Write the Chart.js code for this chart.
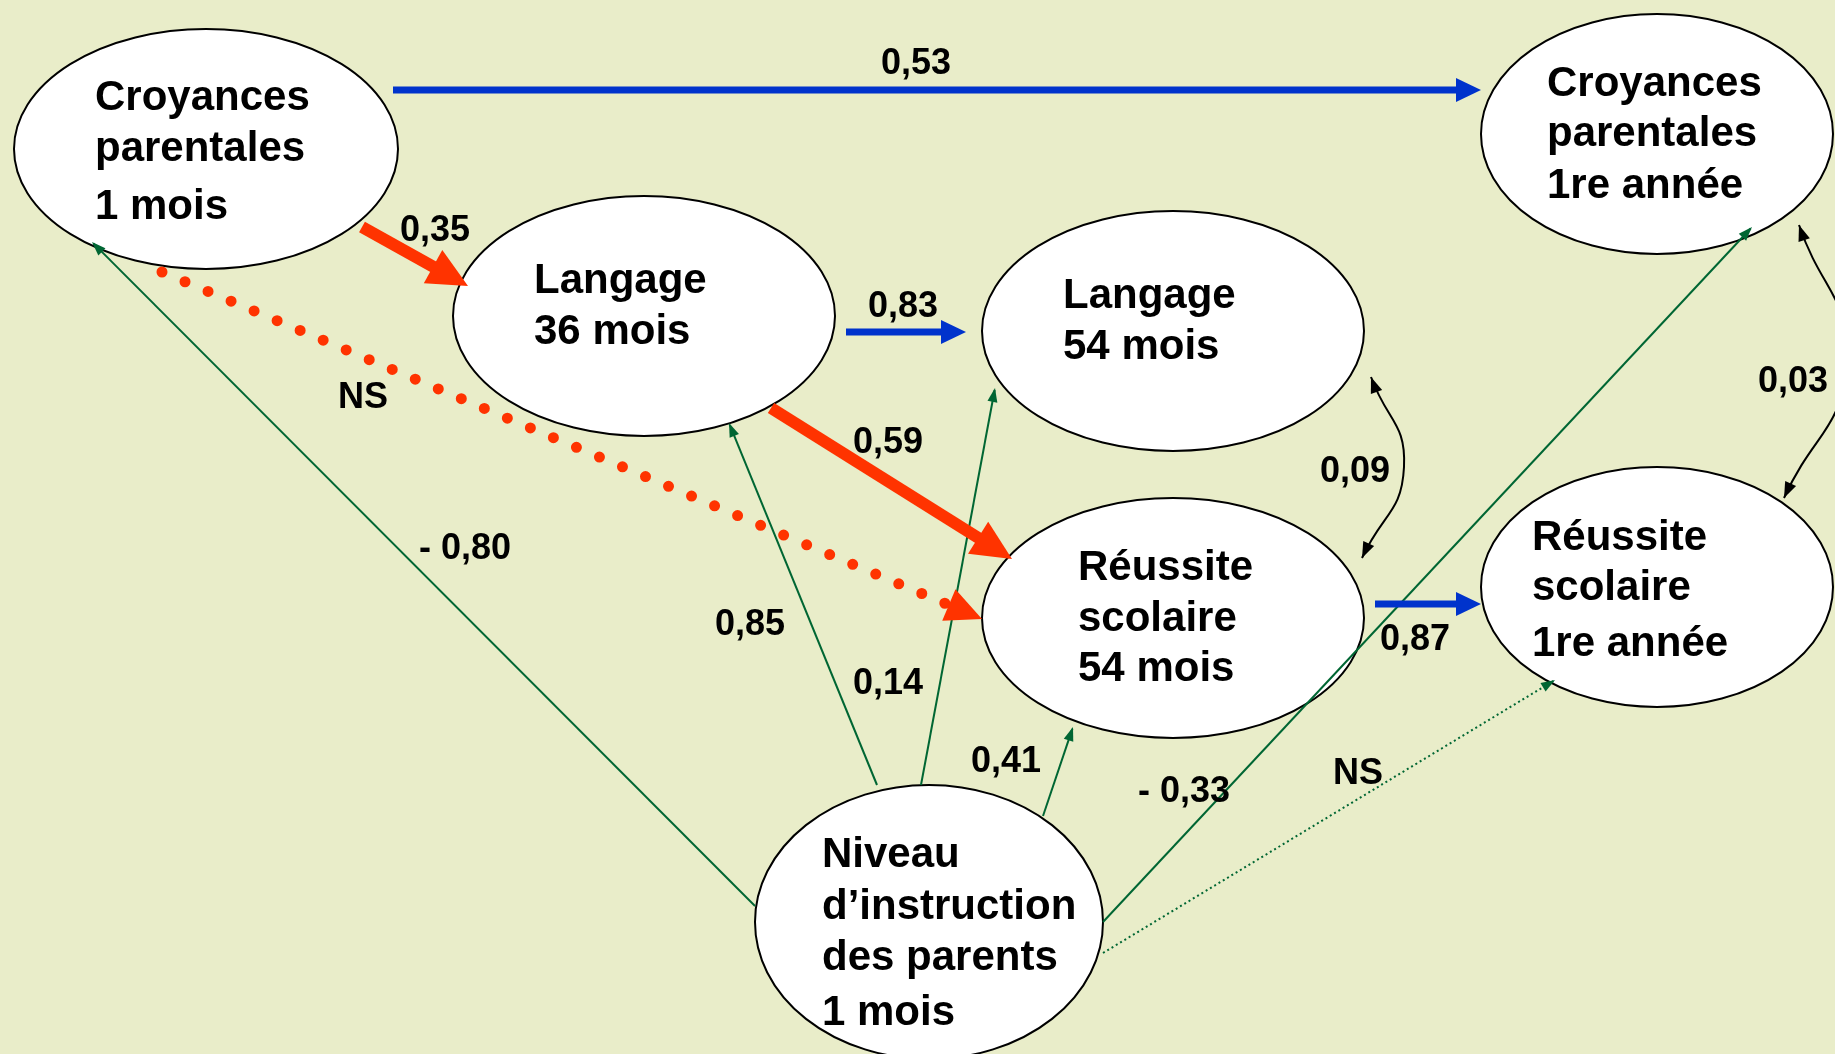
<!DOCTYPE html>
<html lang="fr">
<head>
<meta charset="utf-8">
<title>Modèle de pistes</title>
<script src="https://cdn.jsdelivr.net/npm/chart.js@4.4.1/dist/chart.umd.min.js"></script>
<style>
  html, body { margin: 0; padding: 0; background: #e9edc9; }
  #wrap { width: 1835px; height: 1054px; position: relative; }
</style>
</head>
<body>
<div id="wrap"><canvas id="paths"></canvas></div>
<script>
// variables of the model (diagram units, 1835 x 1054)
const NODE_LINES = [
    ['Croyances', 'parentales', '1 mois'],
    ['Langage', '36 mois'],
    ['Langage', '54 mois'],
    ['Croyances', 'parentales', '1re année'],
    ['Réussite', 'scolaire', '54 mois'],
    ['Réussite', 'scolaire', '1re année'],
    ['Niveau', 'd’instruction', 'des parents', '1 mois']
];
const NODE_X = [206, 644, 1173, 1657, 1173, 1657, 929];
const NODE_Y = [149, 316, 331, 134, 618, 587, 922];
const NODE_RX = [192, 191, 191, 176, 191, 176, 174];
const NODE_RY = [120, 120, 120, 120, 120, 120, 137];
const TEXT_X = [95, 534, 1063, 1547, 1078, 1532, 822];
const TEXT_Y = [[98, 149, 207], [281, 332], [296, 347], [84, 134, 186], [568, 619, 669], [538, 588, 644], [855, 907, 958, 1013]];

// directed paths: coefficient, start, arrow tip
const PATH_COEF = ['0,53', '0,35', '0,83', '0,59', 'NS', '0,87', '- 0,80', '0,85', '0,14', '0,41', '- 0,33', 'NS'];
const PATH_KIND = ['blue', 'red', 'blue', 'red', 'redDots', 'blue', 'green', 'green', 'green', 'green', 'green', 'greenDots'];
const PATH_FROM = [[393, 90], [362, 227], [846, 332], [771, 408], [162, 272], [1375, 604], [755, 906], [877, 785], [921, 785], [1043, 816], [1103, 922], [1103, 953]];
const PATH_TO = [[1481, 90], [468, 286], [966, 332], [1012, 559], [982, 619], [1481, 604], [92, 242], [729, 423], [995, 388], [1073, 727], [1752, 227], [1555, 680]];
const PATH_LABEL = [[916, 64], [435, 231], [903, 307], [888, 443], [363, 398], [1415, 640], [465, 549], [750, 625], [888, 684], [1006, 762], [1184, 792], [1358, 774]];

// correlations (double arrows): start, bend, end
const COV_COEF = ['0,09', '0,03'];
const COV_POINTS = [
    [[1371, 377], [1404, 467], [1362, 558]],
    [[1799, 225], [1846, 362], [1784, 498]]
];
const COV_LABEL = [[1355, 472], [1793, 382]];

const STYLES = {
    blue: { color: '#0033cc', width: 7, headLen: 25, headHalf: 12 },
    red: { color: '#ff3300', width: 12, headLen: 40, headHalf: 19 },
    redDots: { color: '#ff3300', width: 11, dash: [0, 25], cap: 'round', headLen: 36, headHalf: 17 },
    green: { color: '#006633', width: 2, headLen: 14, headHalf: 5 },
    greenDots: { color: '#006633', width: 2, dash: [2, 3], headLen: 14, headHalf: 5 },
    black: { color: '#000000', width: 2, headLen: 16, headHalf: 6 }
};
const BG = '#e9edc9';
const NODE_FONT = 'bold 42px "Liberation Sans", Arial, sans-serif';
const LABEL_FONT = 'bold 36px "Liberation Sans", Arial, sans-serif';


function buildPathDataset(i) {
    const st = STYLES[PATH_KIND[i]];
    const [x0, y0] = PATH_FROM[i];
    const [x1, y1] = PATH_TO[i];
    const len = Math.hypot(x1 - x0, y1 - y0);
    // stop the shaft under the arrow head
    const cut = st.width > 4 ? st.headLen * 0.8 : 2;
    return {
        data: [{ x: x0, y: y0 }, { x: x1 - (x1 - x0) / len * cut, y: y1 - (y1 - y0) / len * cut }],
        showLine: true,
        borderColor: st.color,
        borderWidth: st.width,
        borderDash: st.dash || [],
        borderCapStyle: st.cap || 'butt',
        pointRadius: 0,
        clip: false,
        arrowStyle: st,
        tipEnd: PATH_TO[i]
    };
}

function buildCovDataset(i) {
    const st = STYLES.black;
    return {
        data: COV_POINTS[i].map(p => ({ x: p[0], y: p[1] })),
        showLine: true,
        borderColor: st.color,
        borderWidth: st.width,
        tension: 0.5,
        pointRadius: 0,
        clip: false,
        arrowStyle: st,
        tipEnd: COV_POINTS[i][2],
        tipStart: COV_POINTS[i][0]
    };
}

function drawHead(ctx, tx, ty, fx, fy, st) {
    const a = Math.atan2(ty - fy, tx - fx);
    ctx.save();
    ctx.translate(tx, ty);
    ctx.rotate(a);
    ctx.beginPath();
    ctx.moveTo(0, 0);
    ctx.lineTo(-st.headLen, -st.headHalf);
    ctx.lineTo(-st.headLen, st.headHalf);
    ctx.closePath();
    ctx.fillStyle = st.color;
    ctx.fill();
    ctx.restore();
}

const backgroundPlugin = {
    id: 'background',
    beforeDraw(chart) {
        const ctx = chart.ctx;
        ctx.save();
        ctx.fillStyle = BG;
        ctx.fillRect(0, 0, chart.width, chart.height);
        ctx.restore();
    }
};

const nodePlugin = {
    id: 'nodes',
    beforeDatasetsDraw(chart) {
        const { ctx, scales: { x, y } } = chart;
        ctx.save();
        NODE_X.forEach((cx, i) => {
            const px = x.getPixelForValue(cx);
            const py = y.getPixelForValue(NODE_Y[i]);
            const rx = Math.abs(x.getPixelForValue(cx + NODE_RX[i]) - px);
            const ry = Math.abs(y.getPixelForValue(NODE_Y[i] + NODE_RY[i]) - py);
            ctx.beginPath();
            ctx.ellipse(px, py, rx, ry, 0, 0, Math.PI * 2);
            ctx.fillStyle = '#ffffff';
            ctx.fill();
            ctx.lineWidth = 2;
            ctx.strokeStyle = '#000000';
            ctx.stroke();
        });
        ctx.restore();
    },
    afterDraw(chart) {
        const { ctx, scales: { x, y } } = chart;
        ctx.save();
        ctx.fillStyle = '#000000';
        ctx.font = NODE_FONT;
        ctx.textAlign = 'left';
        ctx.textBaseline = 'middle';
        NODE_LINES.forEach((lines, i) => {
            lines.forEach((t, j) => {
                ctx.fillText(t, x.getPixelForValue(TEXT_X[i]), y.getPixelForValue(TEXT_Y[i][j]));
            });
        });
        ctx.font = LABEL_FONT;
        ctx.textAlign = 'center';
        PATH_COEF.forEach((t, i) => {
            ctx.fillText(t, x.getPixelForValue(PATH_LABEL[i][0]), y.getPixelForValue(PATH_LABEL[i][1]));
        });
        COV_COEF.forEach((t, i) => {
            ctx.fillText(t, x.getPixelForValue(COV_LABEL[i][0]), y.getPixelForValue(COV_LABEL[i][1]));
        });
        ctx.restore();
    }
};

const arrowPlugin = {
    id: 'arrows',
    afterDatasetsDraw(chart) {
        const { ctx, scales: { x, y } } = chart;
        chart.data.datasets.forEach((ds, i) => {
            const pts = chart.getDatasetMeta(i).data;
            const st = ds.arrowStyle;
            const last = pts[pts.length - 1];
            let fx = pts[pts.length - 2].x, fy = pts[pts.length - 2].y;
            if (ds.tension && last.cp1x !== undefined) { fx = last.cp1x; fy = last.cp1y; }
            drawHead(ctx, x.getPixelForValue(ds.tipEnd[0]), y.getPixelForValue(ds.tipEnd[1]), fx, fy, st);
            if (ds.tipStart) {
                const first = pts[0];
                let gx = pts[1].x, gy = pts[1].y;
                if (first.cp2x !== undefined) { gx = first.cp2x; gy = first.cp2y; }
                drawHead(ctx, x.getPixelForValue(ds.tipStart[0]), y.getPixelForValue(ds.tipStart[1]), gx, gy, st);
            }
        });
    }
};

const datasets = PATH_COEF.map((c, i) => buildPathDataset(i))
    .concat(COV_COEF.map((c, i) => buildCovDataset(i)));

new Chart(document.getElementById('paths'), {
    type: 'scatter',
    data: { datasets: datasets },
    options: {
        responsive: true,
        maintainAspectRatio: false,
        animation: false,
        layout: { padding: 0 },
        scales: {
            x: { type: 'linear', min: 0, max: 1835, display: false },
            y: { type: 'linear', min: 0, max: 1054, reverse: true, display: false }
        },
        plugins: {
            legend: { display: false },
            tooltip: { enabled: false }
        }
    },
    plugins: [backgroundPlugin, nodePlugin, arrowPlugin]
});
</script>
</body>
</html>
